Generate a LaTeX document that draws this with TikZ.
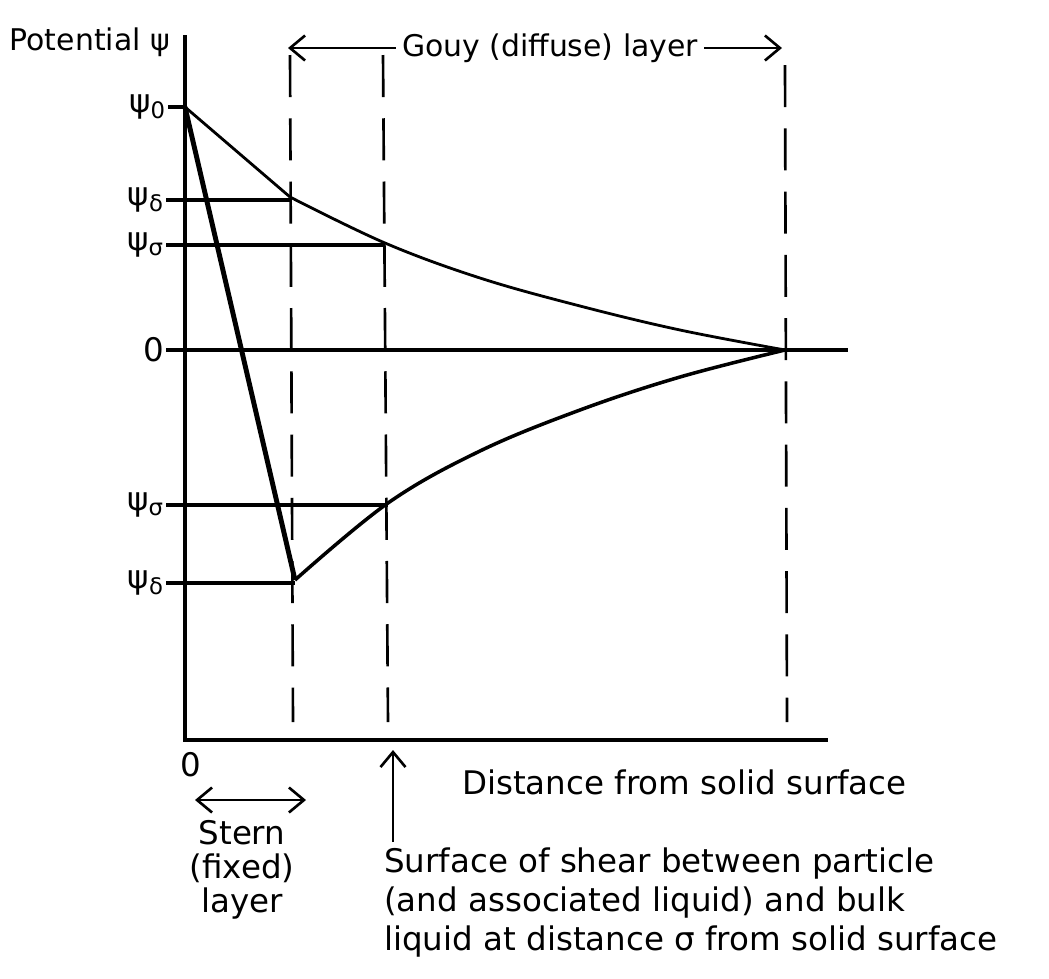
\documentclass[tikz,border=0pt]{standalone}
\usepackage{fontspec}
\setmainfont{DejaVu Sans}
\usetikzlibrary{positioning,arrows.meta}
\newcommand{\psisub}[1]{ψ\textsubscript{#1}}

\begin{document}
\begin{tikzpicture}[x=0.02cm, y=-0.02cm, font=\fontsize{18.5}{22}\selectfont,
  axis/.style={line width=1.8pt},
  level/.style={line width=2.2pt},
  bound/.style={line width=1.5pt, dash pattern=on 24pt off 12pt},
  curve/.style={line width=1.6pt, line join=round},
  arr/.style={-{Straight Barb[length=3mm, width=5mm]}, line width=1.5pt},
  lbl/.style={anchor=east, inner sep=1pt}]
  \useasboundingbox (0,0) rectangle (1049,978);
  % axes
  \coordinate (ytop) at (185,35);
  \coordinate (o) at (185,740);
  \coordinate (xend) at (828,740);
  \draw[axis] (ytop) -- (o) -- (xend);
  \node[anchor=east, font=\fontsize{17}{20}\selectfont] (ylab) at (176,42) {Potential ψ};
  \node (zero) at (191,765) {0};
  \node[anchor=west] (xlab) at (456,782) {Distance from solid surface};

  % points of the potential curves
  \coordinate (p0) at (185,107);
  \coordinate (d1) at (290,197);
  \coordinate (s1) at (385,243);
  \coordinate (e) at (785,350);
  \coordinate (s2) at (388,503);
  \coordinate (d2) at (295,580);
  \coordinate (zend) at (848,350);

  % level labels and lines
  \node[lbl] (l0) at (168,107) {\psisub{0}};
  \node[lbl] (ld1) at (166,200) {\psisub{δ}};
  \node[lbl] (ls1) at (166,245) {\psisub{σ}};
  \node[lbl] (lz) at (166,350) {0};
  \node[lbl] (ls2) at (166,505) {\psisub{σ}};
  \node[lbl] (ld2) at (166,583) {\psisub{δ}};
  \draw[level] (l0.east) -- (p0);
  \draw[level] (ld1.east) -- (ld1.east -| d1);
  \draw[level] (ls1.east) -- (ls1.east -| s1);
  \draw[level] (lz.east) -- (zend);
  \draw[level] (ls2.east) -- (ls2.east -| s2);
  \draw[level] (ld2.east) -- (ld2.east -| d2);

  % layer boundaries
  \draw[bound] (290,55) -- (293,722);
  \draw[bound] (383,55) -- (388,722);
  \draw[bound] (785,65) -- (787,722);

  % potential curves
  \draw[curve] (p0) -- (d1);
  \draw[curve] plot[smooth, tension=0.6] coordinates {(d1) (s1) (480,278) (580,306) (680,330) (e)};
  \draw[line width=2.8pt] (p0) -- (d2);
  \draw[line width=2pt] plot[smooth, tension=0.6] coordinates {(d2) (s2) (480,451) (580,410) (680,377) (e)};

  % Gouy layer
  \node[font=\fontsize{17}{20}\selectfont] (gouy) at (550,48) {Gouy (diffuse) layer};
  \coordinate (gl) at (288,48);
  \coordinate (gr) at (782,48);
  \draw[arr] (gouy.west) -- (gl);
  \draw[arr] (gouy.east) -- (gr);

  % Stern layer
  \coordinate (sl) at (195,800);
  \coordinate (sr) at (306,800);
  \draw[arr, {Straight Barb[length=3mm, width=5mm]}-{Straight Barb[length=3mm, width=5mm]}] (sl) -- (sr);
  \node[align=center, font=\fontsize{18.5}{19.5}\selectfont] (stern) at (242,870) {Stern\\(fixed)\\layer};

  % surface of shear
  \node[anchor=north west, align=left, font=\fontsize{18.5}{22}\selectfont] (shear) at (378,842)
    {Surface of shear between particle\\(and associated liquid) and bulk\\liquid at distance σ from solid surface};
  \coordinate (shtip) at (393,750);
  \draw[arr] (shtip |- shear.north) -- (shtip);
\end{tikzpicture}
\end{document}
